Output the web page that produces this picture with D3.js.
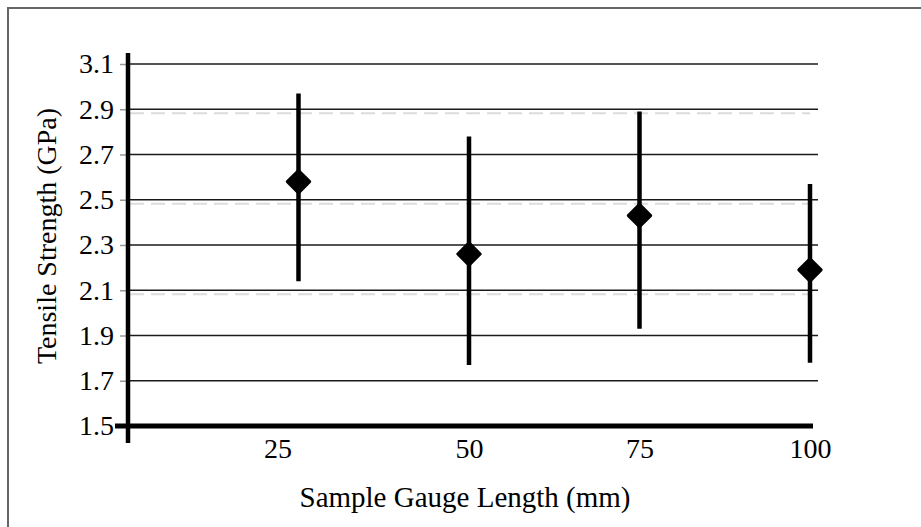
<!DOCTYPE html>
<html>
<head>
<meta charset="utf-8">
<script src="https://cdn.jsdelivr.net/npm/d3@7"></script>
<style>
  body { margin: 0; background: #fff; }
  text { font-family: "Liberation Serif", "Times New Roman", serif; fill: #000; }
</style>
</head>
<body>
<div id="chart"></div>
<script>
// Data
var gaugeLengths = [25, 50, 75, 100];
var meanStrength = [2.58, 2.26, 2.43, 2.19];
var upperStrength = [2.97, 2.78, 2.89, 2.57];
var lowerStrength = [2.14, 1.77, 1.93, 1.78];
var yTicks = [1.5, 1.7, 1.9, 2.1, 2.3, 2.5, 2.7, 2.9, 3.1];
var xTicks = [25, 50, 75, 100];

var width = 921, height = 527;

var svg = d3.select("#chart")
  .append("svg")
    .attr("width", width)
    .attr("height", height);

// outer frame (left and top only, as scanned)
svg.append("path")
  .attr("d", "M8," + height + "V8H" + width)
  .attr("fill", "none")
  .attr("stroke", "#666")
  .attr("stroke-width", 2);

var x = d3.scaleLinear().domain([0, 100]).range([128, 810]);
var y = d3.scaleLinear().domain([1.5, 3.1]).range([426, 64]);

// faint dashed guide lines
svg.selectAll(".dash")
  .data([2.1, 2.5, 2.9])
  .enter().append("line")
    .attr("x1", 130).attr("x2", 810)
    .attr("y1", function(d) { return y(d) + 4; })
    .attr("y2", function(d) { return y(d) + 4; })
    .attr("stroke", "#dcdcdc")
    .attr("stroke-width", 2)
    .attr("stroke-dasharray", "14,7");

// grid lines
svg.selectAll(".grid")
  .data(yTicks.slice(1))
  .enter().append("line")
    .attr("x1", 128).attr("x2", 818)
    .attr("y1", function(d) { return y(d); })
    .attr("y2", function(d) { return y(d); })
    .attr("stroke", "#1a1a1a")
    .attr("stroke-width", 1.6);

// y axis
var yAxis = svg.append("g")
  .attr("transform", "translate(128,0)")
  .call(d3.axisLeft(y).tickValues(yTicks).tickSize(8).tickPadding(6)
    .tickFormat(d3.format(".1f")));
yAxis.select(".domain").remove();
yAxis.selectAll(".tick line").attr("stroke", "#999").attr("stroke-width", 1.5);
yAxis.selectAll(".tick text")
  .style("font-size", "28px")
  .attr("fill", "#000");
yAxis.append("line")
  .attr("x1", 0).attr("x2", 0)
  .attr("y1", 53).attr("y2", 443)
  .attr("stroke", "#000")
  .attr("stroke-width", 4.5);

// x axis (thick baseline)
svg.append("line")
  .attr("x1", 115).attr("x2", 813)
  .attr("y1", y(1.5)).attr("y2", y(1.5))
  .attr("stroke", "#000")
  .attr("stroke-width", 5);

var xAxis = svg.append("g")
  .attr("transform", "translate(0," + y(1.5) + ")")
  .call(d3.axisBottom(x).tickValues(xTicks).tickSize(0).tickPadding(12));
xAxis.select(".domain").remove();
xAxis.selectAll(".tick text")
  .style("font-size", "28px")
  .attr("fill", "#000")
  .attr("dx", function(d, i) { return i === 0 ? -21 : 0; });

// error bars
svg.selectAll(".err")
  .data(gaugeLengths)
  .enter().append("line")
    .attr("x1", function(d) { return x(d); })
    .attr("x2", function(d) { return x(d); })
    .attr("y1", function(d, i) { return y(upperStrength[i]); })
    .attr("y2", function(d, i) { return y(lowerStrength[i]); })
    .attr("stroke", "#000")
    .attr("stroke-width", 4.5);

// mean markers
svg.selectAll(".pt")
  .data(gaugeLengths)
  .enter().append("path")
    .attr("d", d3.symbol(d3.symbolSquare, 250)())
    .attr("transform", function(d, i) {
      return "translate(" + x(d) + "," + y(meanStrength[i]) + ") rotate(45)";
    })
    .attr("fill", "#000")
    .attr("stroke", "#000")
    .attr("stroke-width", 3)
    .attr("stroke-linejoin", "round");

// axis titles
svg.append("text")
  .attr("text-anchor", "middle")
  .attr("x", 465)
  .attr("y", 507)
  .style("font-size", "29px")
  .text("Sample Gauge Length (mm)");

svg.append("text")
  .attr("text-anchor", "middle")
  .attr("transform", "translate(56,236) rotate(-90)")
  .style("font-size", "28px")
  .text("Tensile Strength (GPa)");
</script>
</body>
</html>
